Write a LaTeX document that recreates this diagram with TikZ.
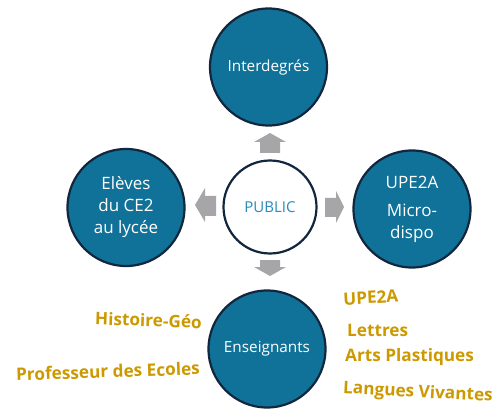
\documentclass[tikz,border=0pt]{standalone}
\usepackage{fontspec}
\setmainfont{Open Sans}
\definecolor{circfill}{RGB}{16,114,152}
\definecolor{circline}{RGB}{18,38,62}
\definecolor{arrgray}{RGB}{166,166,168}
\definecolor{gold}{RGB}{204,153,0}
\definecolor{pubblue}{RGB}{41,139,186}
\begin{document}
\begin{tikzpicture}[x=1pt,y=-1pt,
  bluecirc/.style={circle,fill=circfill,draw=circline,line width=2.2pt,minimum size=117pt,inner sep=0pt,text=white,align=center,font=\fontsize{15.3}{18}\selectfont},
  pubcirc/.style={circle,fill=white,draw=circline,line width=2.2pt,minimum size=93pt,inner sep=0pt,text=pubblue,font=\fontsize{15}{17}\selectfont},
  goldtxt/.style={text=gold,font=\bfseries\fontsize{17.2}{20}\selectfont,inner sep=0pt},
  blockarrow/.style={fill=arrgray}]
\useasboundingbox (0,0) rectangle (498,414);
\node[bluecirc] (top) at (268.5,67) {Interdegr\'es};
\node[bluecirc,font=\fontsize{17}{22}\selectfont] (left) at (126,207.5) {El\`eves\\du CE2\\au lyc\'ee};
\node[bluecirc,font=\fontsize{17}{22}\selectfont] (right) at (412,209) {UPE2A\\[6pt]Micro-\\dispo};
\node[bluecirc] (bottom) at (267,349) {Enseignants};
\node[pubcirc] (public) at (270,207) {PUBLIC};
% block arrows
\fill[blockarrow] (270,133) -- (286,142) -- (280,142) -- (280,153) -- (260,153) -- (260,142) -- (254,142) -- cycle;
\fill[blockarrow] (260,260) -- (280,260) -- (280,267) -- (286,267) -- (270,276) -- (254,267) -- (260,267) -- cycle;
\fill[blockarrow] (195,205) -- (205,188) -- (205,196) -- (216,196) -- (216,216) -- (205,216) -- (205,222) -- cycle;
\fill[blockarrow] (344,207) -- (336,191) -- (336,198) -- (325,198) -- (325,217) -- (336,217) -- (336,223) -- cycle;
% gold labels
\node[goldtxt,anchor=east,rotate=-2] (hg) at (202,322) {Histoire-G\'eo};
\node[goldtxt,anchor=east,rotate=2] (pe) at (200,368) {Professeur des Ecoles};
\node[goldtxt,anchor=west,rotate=3] (up) at (343,299) {UPE2A};
\node[goldtxt,anchor=west] (le) at (347,330) {Lettres};
\node[goldtxt,anchor=west] (ap) at (345,357) {Arts Plastiques};
\node[goldtxt,anchor=west,rotate=-3] (lv) at (343,389) {Langues Vivantes};
\end{tikzpicture}
\end{document}
